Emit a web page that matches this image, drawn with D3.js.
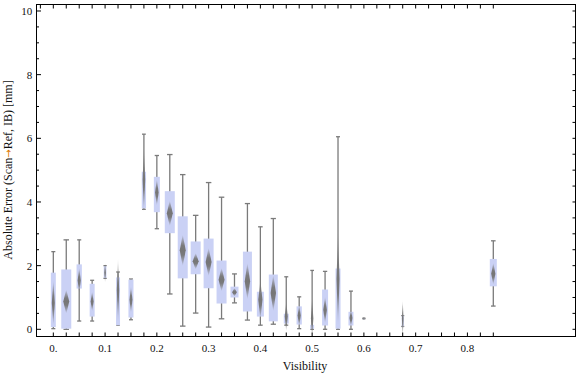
<!DOCTYPE html>
<html><head><meta charset="utf-8">
<script src="https://cdn.jsdelivr.net/npm/d3@7"></script>
<style>body{margin:0;background:#fff}svg{display:block}</style>
</head><body>
<script>
// ---- data ----
const positions   = [0,0.025,0.05,0.075,0.1,0.125,0.15,0.175,0.2,0.225,0.25,0.275,0.3,0.325,0.35,0.375,0.4,0.425,0.45,0.475,0.5,0.525,0.55,0.575,0.6,0.675,0.85];
const whiskerLow  = [0.02,0.0,0.26,0.26,1.60,0.13,0.30,3.77,3.16,1.11,0.10,0.51,0.07,0.33,0.83,0.29,0.13,0.16,0.13,0.02,0.0,0.0,0.0,0.0,0.33,0.09,0.73];
const q1          = [0.07,0.02,1.28,0.40,1.61,0.13,0.37,3.80,3.68,3.02,1.60,1.73,1.29,0.81,1.00,0.56,0.40,0.25,0.18,0.15,0.02,0.12,0.02,0.12,0.33,0.09,1.35];
const q3          = [1.78,1.88,2.04,1.43,1.98,1.63,1.56,4.95,4.79,4.34,3.55,2.76,2.85,2.16,1.34,2.44,1.18,1.72,0.49,0.72,0.14,1.25,1.91,0.55,0.35,0.43,2.21];
const whiskerHigh = [2.44,2.81,2.81,1.54,2.00,1.80,1.58,6.13,5.46,5.49,4.86,3.58,4.61,4.15,1.74,3.95,3.22,3.48,1.65,1.02,1.85,1.82,6.05,1.20,0.35,0.43,2.78];
const meanLow     = [0.12,0.49,1.14,0.56,1.46,0.20,0.51,3.67,3.88,3.24,1.98,1.88,1.67,1.19,1.03,0.93,0.30,0.56,-0.07,0.09,-0.30,0.19,0.09,0.09,0.28,-0.27,1.40];
const meanHigh    = [1.55,1.25,1.93,1.19,2.09,2.25,1.35,5.72,4.72,4.05,2.98,2.40,2.56,1.93,1.30,2.09,1.56,1.72,0.88,0.77,1.00,1.03,3.09,0.62,0.40,0.93,2.09];
const weights     = [0.50,1.00,0.53,0.50,0.27,0.40,0.50,0.43,0.60,1.00,1.00,1.00,1.00,1.00,0.80,0.90,0.70,0.90,0.50,0.53,0.40,0.60,0.50,0.50,0.20,0.20,0.70];
const xTickLabels = ["0.","0.1","0.2","0.3","0.4","0.5","0.6","0.7","0.8"];
const xTickValues = [0,0.1,0.2,0.3,0.4,0.5,0.6,0.7,0.8];
const yTickValues = [0,2,4,6,8,10];

const W = 576, H = 377;
const L = 36.5, R = 575.5, T = 4.5, B = 336.5;
const x = d3.scaleLinear().domain([-0.0325, 1.0088]).range([L, R]);
const y = d3.scaleLinear().domain([-0.226, 10.204]).range([B, T]);
const wScale = d3.scaleLinear().domain([0, 1]).range([0, 10]);

const svg = d3.select("body").append("svg").attr("width", W).attr("height", H);
const defs = svg.append("defs");
const g = defs.append("linearGradient").attr("id","dg").attr("x1",0).attr("y1",0).attr("x2",0).attr("y2",1);
[[0,0],[0.18,0.55],[0.35,0.95],[0.5,1],[0.65,0.95],[0.82,0.55],[1,0]].forEach(([o,a])=>
  g.append("stop").attr("offset",o).attr("stop-color","#767676").attr("stop-opacity",a));

const data = positions.map((p,i)=>({p, wl:whiskerLow[i], q1:q1[i], q3:q3[i], wh:whiskerHigh[i], ml:meanLow[i], mh:meanHigh[i], w:wScale(weights[i])}));

const marks = svg.append("g");
// whiskers
data.forEach(d=>{
  const cx = x(d.p), cap = 2.5 + 0.3*d.w;
  marks.append("line").attr("x1",cx).attr("x2",cx).attr("y1",y(d.wl)).attr("y2",y(d.wh))
    .attr("stroke","#7a7a7a").attr("stroke-width",1.3);
  [d.wl,d.wh].forEach(v=>marks.append("line").attr("x1",cx-cap/2).attr("x2",cx+cap/2)
    .attr("y1",y(v)).attr("y2",y(v)).attr("stroke","#7a7a7a").attr("stroke-width",1.3));
});
// boxes
marks.selectAll("rect.box").data(data).join("rect").attr("class","box")
  .attr("x",d=>x(d.p)-d.w/2).attr("width",d=>d.w)
  .attr("y",d=>y(d.q3)).attr("height",d=>Math.max(1,y(d.q1)-y(d.q3)))
  .attr("fill","#cad1f5");
// diamonds
marks.selectAll("path.dia").data(data).join("path").attr("class","dia")
  .attr("d",d=>{
    const cx=x(d.p), hw=Math.max(0.8,d.w*0.3), t=y(d.mh), b=y(d.ml), m=(t+b)/2;
    return `M${cx},${t}L${cx+hw},${m}L${cx},${b}L${cx-hw},${m}Z`;
  })
  .attr("fill","url(#dg)");

// frame
const ax = svg.append("g").attr("stroke","#000").attr("stroke-width",1);
ax.append("rect").attr("x",L).attr("y",T).attr("width",R-L).attr("height",B-T).attr("fill","none");
// bottom ticks
d3.range(0,35).forEach(i=>{const v=i/40; ax.append("line").attr("x1",x(v)).attr("x2",x(v)).attr("y1",B).attr("y2",B-4);});
// top ticks
d3.range(-1,35).forEach(i=>{const v=i/40; ax.append("line").attr("x1",x(v)).attr("x2",x(v)).attr("y1",T).attr("y2",T+4);});
// left / right ticks
d3.range(0,21).forEach(i=>{const v=i/2, major=(i%4===0);
  ax.append("line").attr("x1",L).attr("x2",L+(major?4.5:2.5)).attr("y1",y(v)).attr("y2",y(v));
  ax.append("line").attr("x1",R).attr("x2",R-3).attr("y1",y(v)).attr("y2",y(v));
});

const font = "'Liberation Serif', 'Times New Roman', serif";
svg.append("g").selectAll("text").data(xTickValues).join("text")
  .attr("x",d=>x(d)).attr("y",351.5).attr("text-anchor","middle")
  .attr("font-family",font).attr("font-size",11).attr("fill","#111")
  .text((d,i)=>xTickLabels[i]);
svg.append("g").selectAll("text").data(yTickValues).join("text")
  .attr("x",L-4.3).attr("y",d=>y(d)+4).attr("text-anchor","end")
  .attr("font-family",font).attr("font-size",11).attr("fill","#111")
  .text(d=>d);

svg.append("text").attr("x",305).attr("y",370).attr("text-anchor","middle")
  .attr("font-family",font).attr("font-size",12).attr("fill","#111").text("Visibility");
const yt = svg.append("text").attr("transform","translate(11.5,170) rotate(-90)").attr("text-anchor","middle")
  .attr("font-family",font).attr("font-size",12).attr("fill","#111");
yt.append("tspan").text("Absolute Error (Scan");
yt.append("tspan").attr("fill","#e07b00").attr("font-family","'DejaVu Sans', sans-serif").attr("font-size",10).text("→");
yt.append("tspan").text("Ref, IB) [mm]");
</script>
</body></html>
